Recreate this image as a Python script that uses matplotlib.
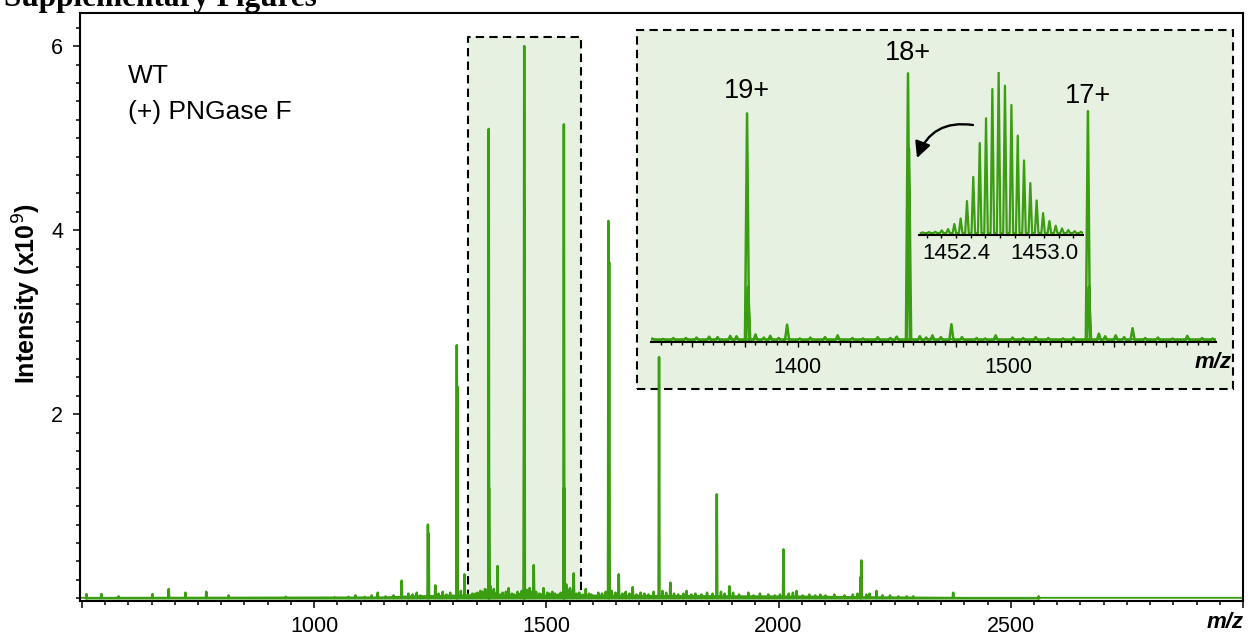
import numpy as np
import matplotlib
matplotlib.use("Agg")
import matplotlib.pyplot as plt
from matplotlib.patches import Rectangle
from matplotlib.ticker import MultipleLocator, FixedLocator, FuncFormatter

plt.rcParams["font.family"] = ["Liberation Sans", "DejaVu Sans"]

GREEN = "#3a9d12"
PALE = "#e7f1e2"

# charge-state envelope (m/z, intensity x1e9), with shoulders
main_mz = [1188.5, 1245.1, 1246.6, 1307.3, 1308.3, 1376.0, 1376.5, 1452.4, 1452.9,
           1537.8, 1538.3, 1633.8, 1635.3, 1742.7, 1867.1, 2010.6, 2176.8, 2178.1, 2376.0]
main_h = [0.19, 0.80, 0.70, 2.75, 2.30, 5.10, 1.20, 6.00, 4.30,
          5.15, 1.20, 4.10, 3.65, 2.62, 1.13, 0.53, 0.23, 0.41, 0.06]

# minor / adduct peaks
small_mz = [510, 542, 579, 652, 687, 723, 768, 816, 939, 1044, 1074, 1089, 1109, 1124,
            1137, 1154, 1171, 1203, 1261, 1324, 1341, 1368, 1380, 1387, 1395, 1413,
            1419, 1464, 1473, 1478, 1494, 1543, 1551, 1559, 1585, 1656, 1686, 1767,
            1802, 1894, 1935, 2039, 2090, 2211, 2276, 2560]
small_h = [0.045, 0.045, 0.02, 0.045, 0.10, 0.06, 0.07, 0.03, 0.015, 0.01, 0.015, 0.03,
           0.015, 0.03, 0.06, 0.02, 0.03, 0.05, 0.14, 0.26, 0.05, 0.10, 0.13, 0.10,
           0.35, 0.07, 0.11, 0.11, 0.36, 0.07, 0.11, 0.15, 0.11, 0.27, 0.10, 0.26,
           0.12, 0.17, 0.08, 0.13, 0.06, 0.08, 0.04, 0.08, 0.02, 0.02]

# baseline fuzz
noise_mz = [1212, 1221, 1229, 1268, 1277, 1285, 1293, 1316, 1331, 1336, 1347, 1352,
            1358, 1362, 1371, 1384, 1391, 1401, 1406, 1426, 1431, 1438, 1444, 1447,
            1458, 1461, 1468, 1485, 1489, 1502, 1507, 1513, 1519, 1526, 1531, 1546,
            1555, 1565, 1571, 1578, 1592, 1597, 1612, 1620, 1628, 1641, 1649, 1664,
            1671, 1679, 1694, 1703, 1711, 1720, 1731, 1750, 1758, 1775, 1784, 1795,
            1812, 1821, 1834, 1846, 1858, 1876, 1884, 1902, 1915, 1946, 1960, 1978,
            1992, 2003, 2022, 2031, 2052, 2066, 2079, 2101, 2120, 2142, 2160, 2170,
            2189, 2196, 2224, 2240, 2258, 2290]
noise_h = [0.04, 0.06, 0.03, 0.05, 0.07, 0.04, 0.06, 0.08, 0.04, 0.03, 0.05, 0.06,
           0.08, 0.07, 0.09, 0.06, 0.05, 0.04, 0.06, 0.05, 0.04, 0.07, 0.05, 0.08,
           0.09, 0.06, 0.07, 0.05, 0.04, 0.06, 0.05, 0.07, 0.05, 0.04, 0.06, 0.09,
           0.07, 0.05, 0.06, 0.04, 0.05, 0.04, 0.06, 0.05, 0.07, 0.08, 0.06, 0.05,
           0.07, 0.05, 0.04, 0.06, 0.05, 0.04, 0.07, 0.08, 0.06, 0.05, 0.04, 0.05,
           0.04, 0.05, 0.04, 0.06, 0.05, 0.07, 0.05, 0.06, 0.04, 0.03, 0.05, 0.04,
           0.03, 0.04, 0.05, 0.06, 0.03, 0.04, 0.03, 0.03, 0.04, 0.03, 0.04, 0.05,
           0.04, 0.05, 0.03, 0.03, 0.02, 0.02]

base_mz = [496, 1150, 1200, 1300, 1600, 1800, 2050, 2250, 2400, 3000]
base_lv = [0.02, 0.025, 0.035, 0.045, 0.045, 0.04, 0.035, 0.025, 0.02, 0.02]

# isotope envelope of the 18+ ion (relative %)
iso_mz = [1452.173, 1452.216, 1452.259, 1452.303, 1452.346, 1452.389, 1452.432,
          1452.475, 1452.518, 1452.562, 1452.605, 1452.648, 1452.691, 1452.734,
          1452.778, 1452.821, 1452.864, 1452.907, 1452.950, 1452.994, 1453.037,
          1453.080, 1453.123, 1453.166, 1453.209, 1453.252]
iso_h = [0.4, 0.6, 0.8, 1.7, 2.5, 5.6, 9.1, 19.9, 34.9, 56.0, 71.4, 89.6, 100,
         91.7, 79.7, 60.6, 45.2, 31.1, 20.3, 12.4, 7.5, 4.6, 2.9, 1.9, 1.2, 0.8]

charge_labels = ["19+", "18+", "17+"]
charge_mz = [1376.0, 1452.4, 1537.8]
charge_y = [5.45, 6.30, 5.34]

W, H = 1257, 636


def fx(x):
    return x / W


def fy(y):
    return 1 - y / H


def stick_trace(mz, h, hw):
    mz = np.asarray(mz, float)
    h = np.asarray(h, float)
    order = np.argsort(mz)
    mz, h = mz[order], h[order]
    xs = np.column_stack([mz - hw, mz, mz + hw]).ravel()
    ys = np.column_stack([np.zeros_like(h), h, np.zeros_like(h)]).ravel()
    return xs, ys


all_mz = main_mz + small_mz + noise_mz
all_h = main_h + small_h + noise_h
sx, sy = stick_trace(all_mz, all_h, 1.0)

fig = plt.figure(figsize=(W / 100, H / 100), dpi=100)

# main panel
ax = fig.add_axes([fx(80), fy(601), fx(1163), 588 / H])
ax.set_xlim(496, 3000)
ax.set_ylim(-0.03, 6.36)

ax.add_patch(Rectangle((1331, 0), 1574 - 1331, 6.1, facecolor=PALE, edgecolor="none", zorder=0.5))
ax.plot([1331, 1331, 1574, 1574], [0, 6.1, 6.1, 0], color="black", lw=1.5,
        ls=(0, (4, 2.5)), zorder=0.6)
ax.add_patch(Rectangle((1695, 2.27), 2978 - 1695, 6.17 - 2.27, facecolor=PALE,
                       edgecolor="black", lw=1.5, ls=(0, (4, 2.5)), zorder=0.7))

ax.fill_between(base_mz, 0, base_lv, color=GREEN, lw=0, zorder=2)
ax.plot(sx, sy, color=GREEN, lw=1.8, zorder=2)

for s in ax.spines.values():
    s.set_linewidth(1.5)
ax.xaxis.set_major_locator(MultipleLocator(500))
ax.xaxis.set_minor_locator(MultipleLocator(50))
ax.xaxis.set_major_formatter(FuncFormatter(lambda v, p: "" if v in (500, 3000) else f"{v:.0f}"))
ax.yaxis.set_major_locator(FixedLocator([2, 4, 6]))
ax.yaxis.set_minor_locator(MultipleLocator(0.2))
ax.tick_params(which="both", direction="out", width=1.1, labelsize=15.5)
ax.tick_params(which="major", length=5, pad=6)
ax.tick_params(which="minor", length=3)
ax.tick_params(axis="y", which="major", pad=7)

fig.text(fx(27), fy(294), "Intensity (x10$^{9}$)", rotation=90, ha="center", va="center",
         fontsize=18, fontweight="bold")
fig.text(fx(1225), fy(622), "m/z", ha="center", va="center", fontsize=16,
         fontweight="bold", style="italic")
fig.text(fx(128), fy(83), "WT", fontsize=19, va="baseline")
fig.text(fx(128), fy(119), "(+) PNGase F", fontsize=19, va="baseline")
fig.text(fx(4), fy(6), "Supplementary Figures", fontsize=22.5, fontweight="bold",
         family=["Liberation Serif"], va="baseline")

# zoomed panel
ins = fig.add_axes([fx(651), fy(342), fx(565), 282 / H])
ins.set_facecolor("none")
ins.set_xlim(1330.4, 1598.6)
ins.set_ylim(-0.04, 6.30)
ins.plot(sx, sy, color=GREEN, lw=1.8)
ins.fill_between(base_mz, 0, base_lv, color=GREEN, lw=0)
for k in ("left", "right", "top"):
    ins.spines[k].set_visible(False)
ins.spines["bottom"].set_linewidth(1.5)
ins.set_yticks([])
ins.xaxis.set_major_locator(MultipleLocator(25))
ins.xaxis.set_minor_locator(MultipleLocator(5))
ins.xaxis.set_major_formatter(FuncFormatter(lambda v, p: f"{v:.0f}" if v % 100 == 0 else ""))
ins.tick_params(which="both", direction="out", width=1.0, labelsize=15.5)
ins.tick_params(which="major", length=3.5, pad=7)
ins.tick_params(which="minor", length=2)
for lab, m, y in zip(charge_labels, charge_mz, charge_y):
    ins.text(m, y, lab, ha="center", va="baseline", fontsize=19.5)
fig.text(fx(1213), fy(363), "m/z", ha="center", va="center", fontsize=16,
         fontweight="bold", style="italic")

# isotope panel
iso = fig.add_axes([fx(919), fy(235), fx(164), 163 / H])
iso.set_facecolor("none")
iso.set_xlim(1452.148, 1453.266)
iso.set_ylim(-1.2, 100.2)
ix, iy = stick_trace(iso_mz, iso_h, 0.012)
iso.plot(ix, iy, color=GREEN, lw=1.6)
for k in ("left", "right", "top"):
    iso.spines[k].set_visible(False)
iso.spines["bottom"].set_linewidth(1.5)
iso.set_yticks([])
iso.xaxis.set_major_locator(FixedLocator([1452.4, 1453.0]))
iso.xaxis.set_minor_locator(MultipleLocator(0.1))
iso.xaxis.set_major_formatter(FuncFormatter(lambda v, p: f"{v:.1f}"))
iso.tick_params(which="both", direction="out", width=1.0, length=2.5, labelsize=16, pad=3)

ax.annotate("", xy=(917, H - 158), xytext=(973, H - 125), xycoords="figure pixels",
            textcoords="figure pixels",
            arrowprops=dict(arrowstyle="-|>", connectionstyle="arc3,rad=0.4",
                            lw=1.7, color="black", mutation_scale=24, shrinkA=0, shrinkB=0))

fig.savefig("out.png", dpi=100)
